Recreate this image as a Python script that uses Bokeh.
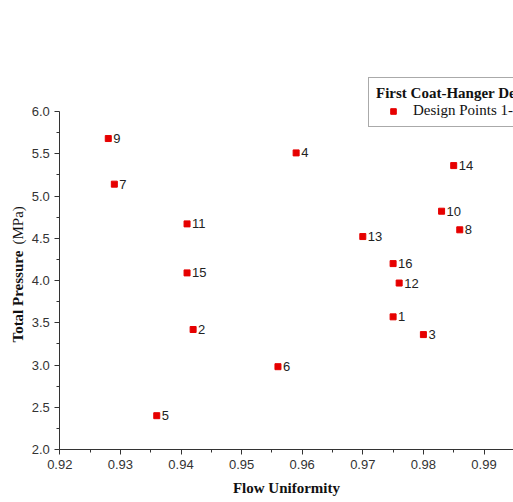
from math import pi
from bokeh.plotting import figure
from bokeh.models import (ColumnDataSource, Range1d, Label, Legend, LegendItem,
                          FixedTicker, PrintfTickFormatter, LinearAxis)
from bokeh.embed import file_html
from bokeh.resources import INLINE
from bokeh.core.properties import value

# ---- data ----
design_point = ["1", "2", "3", "4", "5", "6", "7", "8",
                "9", "10", "11", "12", "13", "14", "15", "16"]
flow_uniformity = [0.975, 0.942, 0.980, 0.959, 0.936, 0.956, 0.929, 0.986,
                   0.928, 0.983, 0.941, 0.976, 0.970, 0.985, 0.941, 0.975]
total_pressure = [3.57, 3.42, 3.36, 5.51, 2.40, 2.98, 5.14, 4.60,
                  5.68, 4.82, 4.67, 3.97, 4.52, 5.36, 4.09, 4.20]

x_ticks = [0.92, 0.93, 0.94, 0.95, 0.96, 0.97, 0.98, 0.99]
x_minor = [0.925, 0.935, 0.945, 0.955, 0.965, 0.975, 0.985, 0.995]
y_ticks = [2.0, 2.5, 3.0, 3.5, 4.0, 4.5, 5.0, 5.5, 6.0]
y_minor = [2.25, 2.75, 3.25, 3.75, 4.25, 4.75, 5.25, 5.75]
x_min, y_min, y_max = 0.92, 2.0, 6.0

legend_title = "First Coat-Hanger Design"
legend_label = "Design Points 1-16"
x_title = "Flow Uniformity"
y_title_bold = "Total Pressure"
y_title_unit = "(MPa)"

# ---- layout (pixels) ----
W, H = 513, 502
axis_left_px, axis_top_px, axis_bottom_px = 59.3, 111.0, 449.0
px_per_x = 6060.0                                   # pixels per unit of x
px_per_y = (axis_bottom_px - axis_top_px) / (y_max - y_min)

x_start = x_min - axis_left_px / px_per_x
x_end = x_start + W / px_per_x
y_start = y_min - (H - axis_bottom_px) / px_per_y
y_end = y_start + H / px_per_y

src = ColumnDataSource(dict(x=flow_uniformity, y=total_pressure, label=design_point))

p = figure(width=W, height=H, output_backend="svg", toolbar_location=None,
           x_range=Range1d(x_start, x_end), y_range=Range1d(y_start, y_end),
           x_axis_location=None, y_axis_location=None,
           min_border_left=0, min_border_right=0, min_border_top=0,
           min_border_bottom=0, background_fill_color="white",
           border_fill_color="white")
p.outline_line_color = None
p.grid.visible = False

xaxis = LinearAxis(fixed_location=y_min, bounds=(x_min, x_end))
yaxis = LinearAxis(fixed_location=x_min, bounds=(y_min, y_max))
p.add_layout(xaxis, "below")
p.add_layout(yaxis, "left")

axis_color = "#333333"
for ax in (xaxis, yaxis):
    ax.axis_line_color = axis_color
    ax.major_tick_line_color = axis_color
    ax.minor_tick_line_color = axis_color
    ax.major_tick_out = 5
    ax.major_tick_in = 0
    ax.minor_tick_out = 3
    ax.minor_tick_in = 0
    ax.major_label_text_font = "Liberation Sans"
    ax.major_label_text_font_size = "13px"
    ax.major_label_text_color = "#333333"
    ax.major_label_standoff = 5

xaxis.ticker = FixedTicker(ticks=x_ticks, minor_ticks=x_minor)
yaxis.ticker = FixedTicker(ticks=y_ticks, minor_ticks=y_minor)
xaxis.formatter = PrintfTickFormatter(format="%.2f")
yaxis.formatter = PrintfTickFormatter(format="%.1f")

xaxis.axis_label = x_title
xaxis.axis_label_text_font = "Liberation Serif"
xaxis.axis_label_text_font_style = "bold"
xaxis.axis_label_text_font_size = "15px"
xaxis.axis_label_text_color = "#111111"
xaxis.axis_label_standoff = 8

# y-axis title: bold part + regular unit part (screen px from bottom-left)
p.add_layout(Label(x=17, y=H - 342, x_units="screen", y_units="screen",
                   text=y_title_bold, angle=pi / 2, text_align="left",
                   text_baseline="middle", text_font="Liberation Serif",
                   text_font_style="bold", text_font_size="15px",
                   text_color="#111111"))
p.add_layout(Label(x=17, y=H - 342 + 98, x_units="screen", y_units="screen",
                   text=y_title_unit, angle=pi / 2, text_align="left",
                   text_baseline="middle", text_font="Liberation Serif",
                   text_font_size="15px", text_color="#111111"))

r = p.scatter("x", "y", source=src, marker="square", size=6,
              fill_color="#e60000", line_color="#e60000")
p.text("x", "y", text="label", source=src, x_offset=5, text_baseline="middle",
       text_font=value("Liberation Sans"), text_font_size="13px",
       text_color="#222222")

legend = Legend(items=[LegendItem(label=legend_label, renderers=[r])],
                title=legend_title, location=(368, H - 127), padding=7,
                spacing=0, title_standoff=0, glyph_width=34, glyph_height=14,
                label_height=14, label_standoff=3, margin=0,
                border_line_color="#555555", border_line_width=1,
                title_text_font="Liberation Serif", title_text_font_style="bold",
                title_text_font_size="15px", title_text_color="#111111",
                label_text_font="Liberation Serif", label_text_font_size="15px",
                label_text_color="#111111", background_fill_alpha=1.0)
p.add_layout(legend)

open("out.html", "w").write(file_html(p, INLINE))
